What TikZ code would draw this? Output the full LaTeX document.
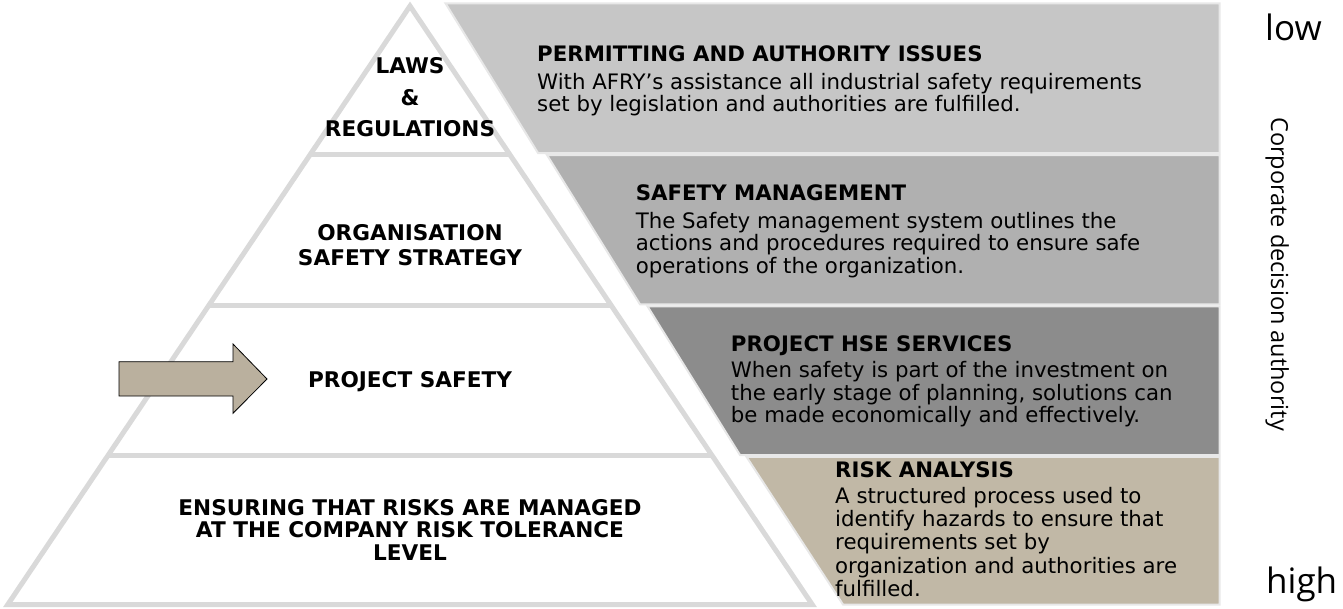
\documentclass[tikz,border=0pt]{standalone}
\usepackage{fontspec}
\setmainfont{DejaVu Sans}
\newfontfamily\osans{Open Sans}
\definecolor{pyr}{HTML}{D9D9D9}
\definecolor{pborder}{HTML}{E8E8E8}
\definecolor{pone}{HTML}{C6C6C6}
\definecolor{ptwo}{HTML}{B0B0B0}
\definecolor{pthree}{HTML}{8C8C8C}
\definecolor{pfour}{HTML}{C1B8A6}
\definecolor{arrowc}{HTML}{BAB09E}
\newcommand\myC[1]{\vtop{\lineskiplimit=-\maxdimen\halign{\hfil##\hfil\cr#1\crcr}}}
\newcommand\myL[1]{\vtop{\lineskiplimit=-\maxdimen\halign{##\hfil\cr#1\crcr}}}
\begin{document}
\begin{tikzpicture}[x=1pt,y=-1pt,
  pyrline/.style={draw=pyr, line width=5pt},
  panel/.style={draw=pborder, line width=2pt, line join=miter},
  ptxt/.style={anchor=base west, inner sep=0pt, font=\fontsize{21.3}{22.6}\selectfont},
  ytxt/.style={anchor=base, inner sep=0pt, font=\fontsize{21.6}{22.9}\selectfont\bfseries},
  side/.style={inner sep=0pt, font=\osans\fontsize{35}{40}\selectfont}]
\useasboundingbox (0,0) rectangle (1343,608);
% pyramid
\path[fill=white, pyrline, line join=miter, miter limit=10] (410,6) -- (812.2,604.5) -- (7.8,604.5) -- cycle;
\draw[pyrline] (310.2,154.5) -- (509.8,154.5);
\draw[pyrline] (209.1,305) -- (610.9,305);
\draw[pyrline] (107.9,455.5) -- (712.1,455.5);
% panels
\path[panel, fill=pone] (445.5,3.3) -- (1219.7,3.3) -- (1219.7,153) -- (538,153) -- cycle;
\path[panel, fill=ptwo] (547,155) -- (1219.7,155) -- (1219.7,304.3) -- (640,304.3) -- cycle;
\path[panel, fill=pthree] (647.5,306.3) -- (1219.7,306.3) -- (1219.7,455) -- (740,455) -- cycle;
\path[panel, fill=pfour] (746.5,456.8) -- (1219.7,456.8) -- (1219.7,604.5) -- (843,604.5) -- cycle;
% pyramid texts
\node[ytxt, font=\fontsize{21.6}{31.7}\selectfont\bfseries] (laws) at (410,73.3) {\myC{LAWS\cr \&\cr REGULATIONS}};
\node[ytxt, font=\fontsize{21.6}{24.3}\selectfont\bfseries] (org) at (410,240.7) {\myC{ORGANISATION\cr SAFETY STRATEGY}};
\node[ytxt] (proj) at (410,387.3) {PROJECT SAFETY};
\node[ytxt] (ens) at (410,515) {\myC{ENSURING THAT RISKS ARE MANAGED\cr AT THE COMPANY RISK TOLERANCE\cr LEVEL}};
% arrow
\filldraw[fill=arrowc, draw=black, line width=0.8pt, line join=miter] (119,361.7) -- (233,361.7) -- (233,344) -- (267,379) -- (233,413.3) -- (233,396) -- (119,396) -- cycle;
% panel texts
\node[ptxt] (perm) at (537,61.7) {\myL{\textbf{PERMITTING AND AUTHORITY ISSUES}\cr\noalign{\vskip5pt}
With AFRY’s assistance all industrial safety requirements\cr
set by legislation and authorities are fulfilled.}};
\node[ptxt] (sm) at (635.6,200.7) {\myL{\textbf{SAFETY MANAGEMENT}\cr\noalign{\vskip5pt}
The Safety management system outlines the\cr
actions and procedures required to ensure safe\cr
operations of the organization.}};
\node[ptxt] (hse) at (730.7,351) {\myL{\textbf{PROJECT HSE SERVICES}\cr\noalign{\vskip4pt}
When safety is part of the investment on\cr
the early stage of planning, solutions can\cr
be made economically and effectively.}};
\node[ptxt, font=\fontsize{21.3}{23.2}\selectfont] (risk) at (835,477.3) {\myL{\textbf{RISK ANALYSIS}\cr\noalign{\vskip3pt}
A structured process used to\cr
identify hazards to ensure that\cr
requirements set by\cr
organization and authorities are\cr
fulfilled.}};
% side labels
\node[side, anchor=base west] (low) at (1265,40) {low};
\node[side, anchor=base west] (high) at (1266,593.3) {high};
\node[inner sep=0pt, font=\osans\fontsize{23.5}{26}\selectfont, rotate=-90, anchor=base west] (cda) at (1271,117) {Corporate decision authority};
\end{tikzpicture}
\end{document}
